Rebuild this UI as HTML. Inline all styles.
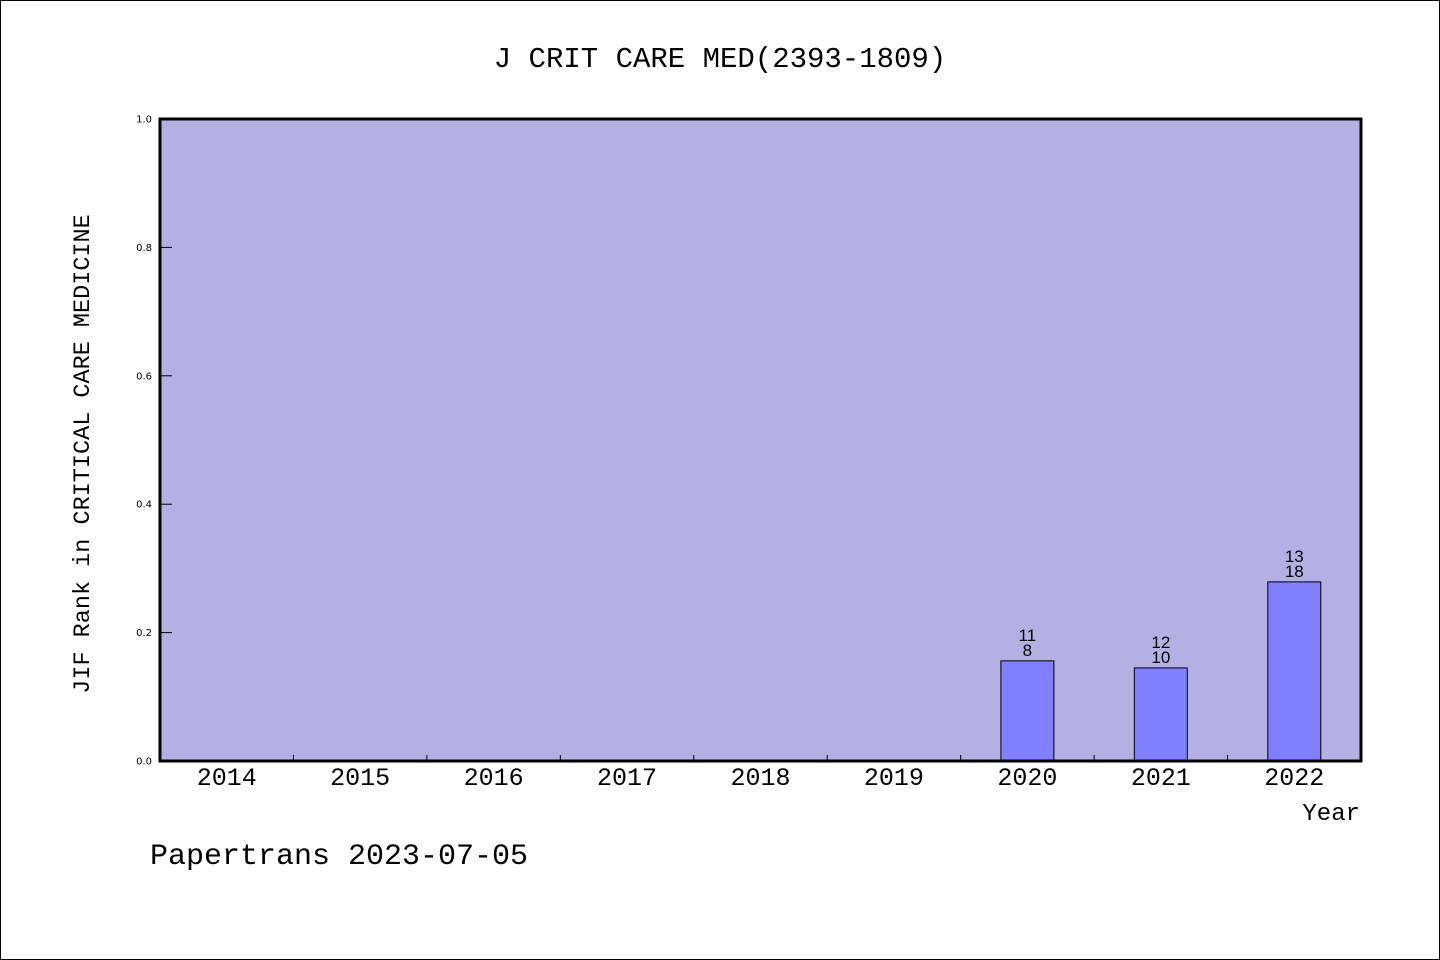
<!DOCTYPE html>
<html><head><meta charset="utf-8"><style>
html,body{margin:0;padding:0;background:#fff}
svg{display:block}
text{font-family:"Liberation Mono","DejaVu Sans Mono",monospace}
</style></head><body>
<svg id="chart" width="1440" height="960" viewBox="0 0 1440 960">
<rect x="0.5" y="0.5" width="1439" height="959" fill="#fff" stroke="#000"/>
<text x="720" y="67" text-anchor="middle" font-size="29">J CRIT CARE MED(2393-1809)</text>
<rect x="160" y="119" width="1201" height="642" fill="#b5b0e3"/>
<g id="marks"></g>
<rect x="160" y="119" width="1201" height="642" fill="none" stroke="#000" stroke-width="3"/>
<text transform="translate(89,454) rotate(-90)" text-anchor="middle" font-size="23.5">JIF Rank in CRITICAL CARE MEDICINE</text>
<text x="1360" y="820" text-anchor="end" font-size="24">Year</text>
<text x="150" y="864" font-size="30">Papertrans 2023-07-05</text>
</svg>
<script>
const categories = ["2014","2015","2016","2017","2018","2019","2020","2021","2022"];
const barYears = ["2020","2021","2022"];
const barValues = [0.156, 0.145, 0.279];
const topLabels = ["11","12","13"];
const bottomLabels = ["8","10","18"];
const yTicks = [0.0, 0.2, 0.4, 0.6, 0.8, 1.0];
const yTickLabels = ["0.0","0.2","0.4","0.6","0.8","1.0"];

const X0 = 160, X1 = 1361, Y0 = 761, Y1 = 119;
const band = (X1 - X0) / categories.length;
const xScale = c => X0 + band * (categories.indexOf(c) + 0.5);
const yScale = v => Y0 - (Y0 - Y1) * v;
const NS = "http://www.w3.org/2000/svg";
const g = document.getElementById("marks");
function mk(tag, attrs){const e=document.createElementNS(NS,tag);for(const k in attrs)e.setAttribute(k,attrs[k]);g.appendChild(e);return e;}

yTicks.forEach((v,i)=>{
  const y=yScale(v);
  const t=mk("line",{x1:X0,x2:X0+12,y1:y,y2:y,stroke:"#000","stroke-width":1});
  
  
  const l=mk("text",{x:X0-8,y:y+3.5,"text-anchor":"end","font-size":10,style:"font-family:'DejaVu Sans',sans-serif"});
  l.textContent=yTickLabels[i];
  
  
});
for(let i=1;i<categories.length;i++){
  const x=X0+band*i;
  const t=mk("line",{x1:x,x2:x,y1:Y0-6,y2:Y0,stroke:"#000","stroke-width":1});
  
  
}
categories.forEach(c=>{
  const l=mk("text",{x:xScale(c),y:785,"text-anchor":"middle","font-size":25});
  l.textContent=c;
  
  
});
barYears.forEach((c,i)=>{
  const cx=xScale(c), w=53, y=yScale(barValues[i]);
  const b=mk("rect",{x:cx-w/2,y:y,width:w,height:Y0-y,fill:"#8080ff",stroke:"#000","stroke-width":1});
  
  
  const t1=mk("text",{x:cx,y:y-20,"text-anchor":"middle","font-size":17,style:"font-family:'Liberation Sans',sans-serif"});
  t1.textContent=topLabels[i];
  
  
  const t2=mk("text",{x:cx,y:y-5,"text-anchor":"middle","font-size":17,style:"font-family:'Liberation Sans',sans-serif"});
  t2.textContent=bottomLabels[i];
  
  
});
</script>
</body></html>
